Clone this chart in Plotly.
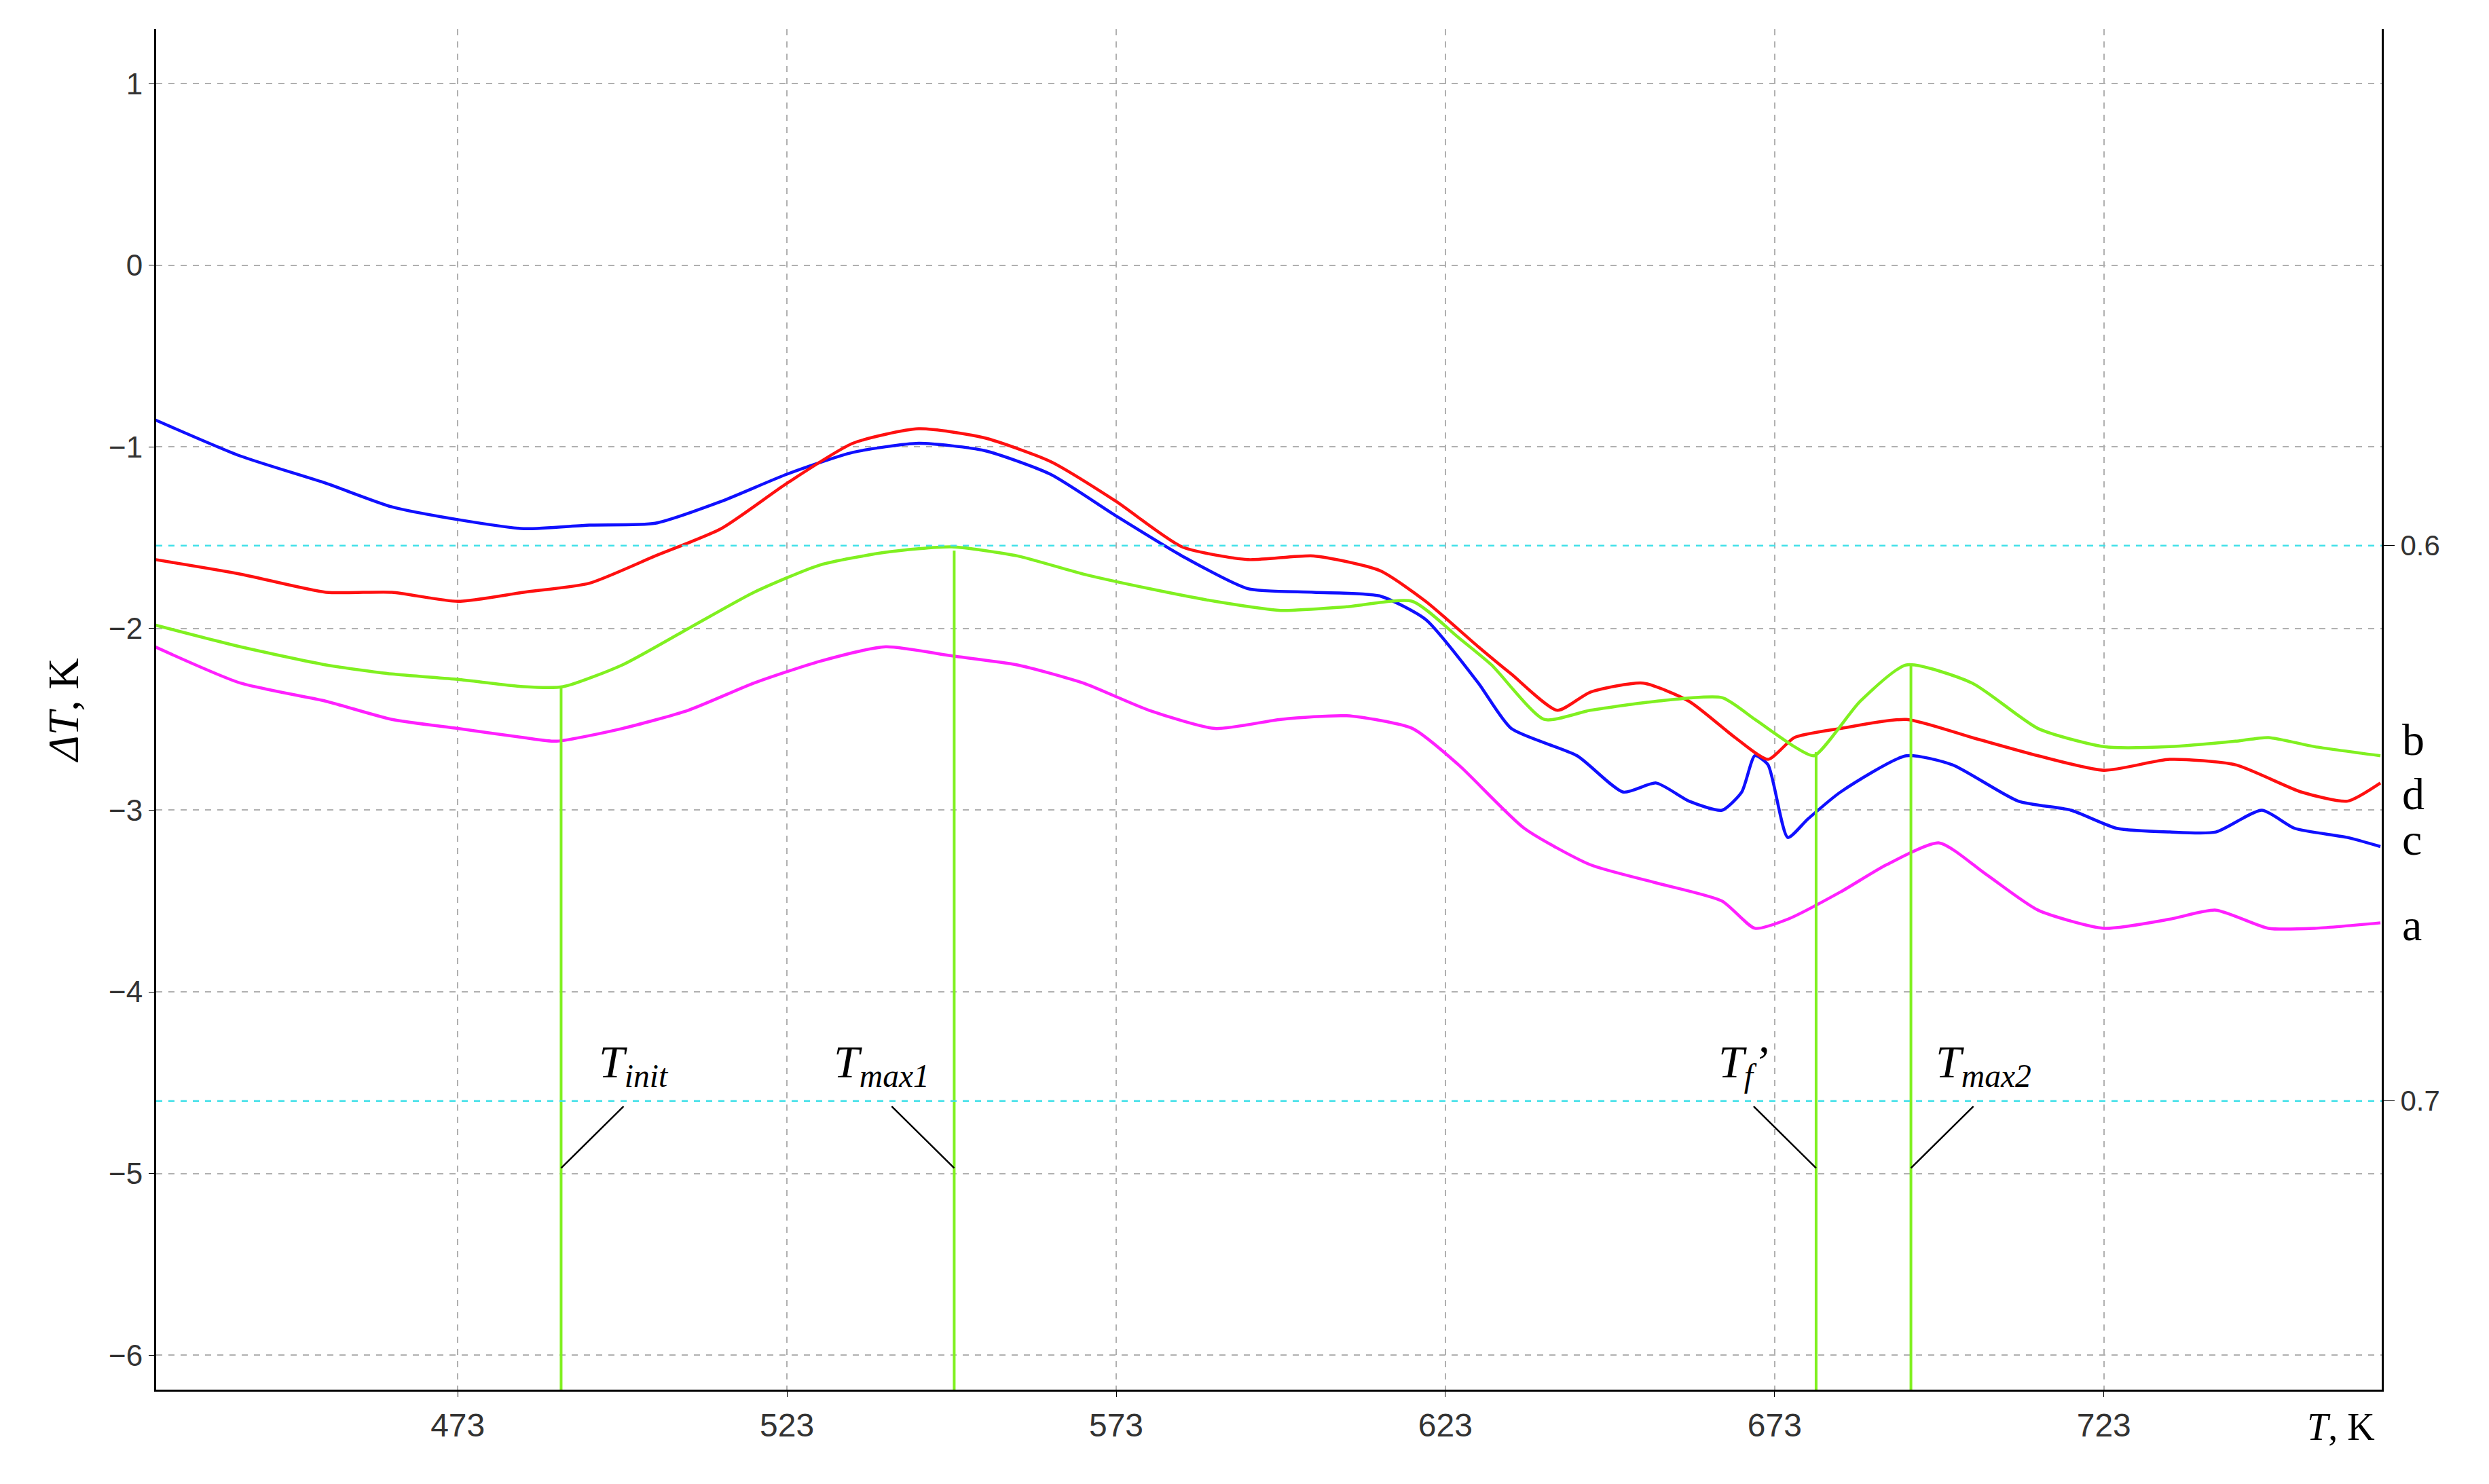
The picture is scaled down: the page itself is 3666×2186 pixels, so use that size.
import plotly.graph_objects as go

T_c = [427,440,453,463,473,483,493,503,513,523,533,543,553,563,573,583,593,603,613,620,628,633,643,650,655,660,665,668,670,672,675,678,683,693,700,710,718,725,733,740,747,752,760,765]
dT_c = [-0.85,-1.05,-1.2,-1.33,-1.4,-1.45,-1.43,-1.42,-1.3,-1.15,-1.03,-0.98,-1.02,-1.15,-1.38,-1.6,-1.78,-1.8,-1.82,-1.95,-2.3,-2.55,-2.7,-2.9,-2.85,-2.95,-3.0,-2.9,-2.7,-2.75,-3.15,-3.05,-2.9,-2.7,-2.75,-2.95,-3.0,-3.1,-3.12,-3.12,-3.0,-3.1,-3.15,-3.2]
T_d = [427,440,453,463,473,483,493,503,513,523,533,543,553,563,573,583,593,603,613,620,628,633,640,645,653,660,667,672,676,683,693,703,713,723,733,743,753,760,765]
dT_d = [-1.62,-1.7,-1.8,-1.8,-1.85,-1.8,-1.75,-1.6,-1.45,-1.2,-0.98,-0.9,-0.95,-1.08,-1.3,-1.55,-1.62,-1.6,-1.68,-1.85,-2.1,-2.25,-2.45,-2.35,-2.3,-2.4,-2.6,-2.72,-2.6,-2.55,-2.5,-2.6,-2.7,-2.78,-2.72,-2.75,-2.9,-2.95,-2.85]
T_b = [427,440,453,463,473,483,489,498,508,518,528,538,548,558,568,578,588,598,608,618,625,630,638,645,655,665,670,676,679,686,693,703,713,723,733,743,748,755,765]
dT_b = [-1.98,-2.1,-2.2,-2.25,-2.28,-2.32,-2.32,-2.2,-2.0,-1.8,-1.65,-1.58,-1.55,-1.6,-1.7,-1.78,-1.85,-1.9,-1.88,-1.85,-2.05,-2.2,-2.5,-2.45,-2.4,-2.38,-2.5,-2.65,-2.7,-2.4,-2.2,-2.3,-2.55,-2.65,-2.65,-2.62,-2.6,-2.65,-2.7]
T_a = [427,440,453,463,473,483,488,498,508,518,528,538,548,558,568,578,588,598,608,618,625,635,645,655,665,670,675,683,690,698,705,713,723,733,740,748,755,765]
dT_a = [-2.1,-2.3,-2.4,-2.5,-2.55,-2.6,-2.62,-2.55,-2.45,-2.3,-2.18,-2.1,-2.15,-2.2,-2.3,-2.45,-2.55,-2.5,-2.48,-2.55,-2.75,-3.1,-3.3,-3.4,-3.5,-3.65,-3.6,-3.45,-3.3,-3.18,-3.35,-3.55,-3.65,-3.6,-3.55,-3.65,-3.65,-3.62]

marker_T = [488.7, 548.4, 679.3, 693.7]
marker_top = [-2.32, -1.57, -2.68, -2.2]
marker_labels = ["T<sub>init</sub>", "T<sub>max1</sub>", "T<sub>f</sub>’", "T<sub>max2</sub>"]
label_dir = [1, -1, -1, 1]
curve_labels = ["b", "d", "c", "a"]
curve_label_y = [-2.61, -2.91, -3.16, -3.63]

x_ticks = [473, 523, 573, 623, 673, 723]
y_ticks = [1, 0, -1, -2, -3, -4, -5, -6]
y2_ticks = [0.6, 0.7]

XR = [427.2, 765.2]
YR = [-6.19, 1.30]

fig = go.Figure()
for T, d, c in [(T_c, dT_c, "#1010ff"), (T_d, dT_d, "#ff1010"), (T_b, dT_b, "#80f020"), (T_a, dT_a, "#ff20ff")]:
    fig.add_trace(go.Scatter(x=T, y=d, mode="lines", line=dict(color=c, width=4.5, shape="spline", smoothing=0.6), showlegend=False))

for t, top, lab, s in zip(marker_T, marker_top, marker_labels, label_dir):
    fig.add_trace(go.Scatter(x=[t, t], y=[top, YR[0]], mode="lines", line=dict(color="#80f020", width=4), showlegend=False))
    fig.add_trace(go.Scatter(x=[t, t + s * 9.5], y=[-4.97, -4.63], mode="lines", line=dict(color="black", width=2.5), showlegend=False))
    fig.add_annotation(x=t + s * 11, y=-4.4, text="<i>" + lab + "</i>", showarrow=False,
                       font=dict(family="Liberation Serif", size=68, color="black"))

for lab, yv in zip(curve_labels, curve_label_y):
    fig.add_annotation(x=1.0, xref="paper", y=yv, text=lab, showarrow=False, xanchor="left", xshift=28,
                       font=dict(family="Liberation Serif", size=66, color="black"))

fig.add_annotation(x=1.0, xref="paper", y=0, yref="paper", text="<i>T</i>, K", showarrow=False,
                   xanchor="right", yanchor="top", yshift=-22, xshift=-8,
                   font=dict(family="Liberation Serif", size=56, color="black"))

fig.add_trace(go.Scatter(x=[XR[0], XR[1]], y=[0.6, 0.6], yaxis="y2", mode="lines",
                         line=dict(color="#40e0e8", width=2.5, dash="dash"), showlegend=False))
fig.add_trace(go.Scatter(x=[XR[0], XR[1]], y=[0.7, 0.7], yaxis="y2", mode="lines",
                         line=dict(color="#40e0e8", width=2.5, dash="dash"), showlegend=False))

fig.update_layout(
    width=3666, height=2186, paper_bgcolor="white", plot_bgcolor="white",
    margin=dict(l=222, r=166, t=35, b=147),
    xaxis=dict(range=XR, tickvals=x_ticks, ticktext=[str(v) for v in x_ticks], showgrid=True,
               gridcolor="#b0b0b0", griddash="dash", gridwidth=2, showline=True, linecolor="black",
               linewidth=3, mirror=False, ticks="outside", ticklen=8, tickcolor="black",
               tickfont=dict(family="Liberation Sans", size=48, color="#333"), zeroline=False),
    yaxis=dict(range=YR, tickvals=y_ticks, ticktext=[str(v).replace("-", "−") for v in y_ticks],
               showgrid=True, gridcolor="#b0b0b0", griddash="dash", gridwidth=2, showline=True,
               linecolor="black", linewidth=3, ticks="outside", ticklen=8, tickcolor="black",
               tickfont=dict(family="Liberation Sans", size=44, color="#333"), zeroline=False,
               title=dict(text="<i>ΔT</i>, K", font=dict(family="Liberation Serif", size=64, color="black"), standoff=24)),
    yaxis2=dict(overlaying="y", side="right", range=[0.752, 0.507], tickvals=y2_ticks,
                ticktext=["0.6", "0.7"], showgrid=False, showline=True, linecolor="black", linewidth=3,
                ticks="outside", ticklen=16, tickcolor="black", zeroline=False,
                tickfont=dict(family="Liberation Sans", size=42, color="#333")),
)
fig.write_html("out.html")
